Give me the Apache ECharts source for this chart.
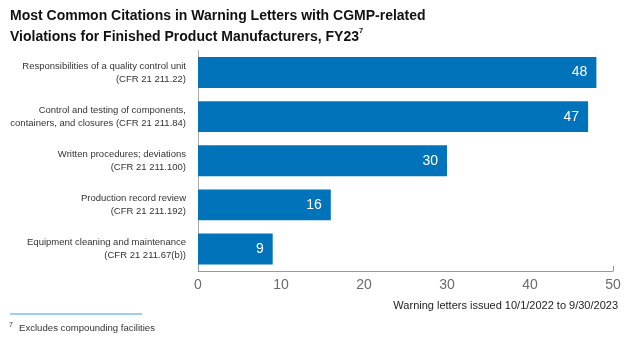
<!DOCTYPE html>
<html><head><meta charset="utf-8">
<script src="https://cdn.jsdelivr.net/npm/echarts@6/dist/echarts.min.js"></script>
<style>html,body{margin:0;padding:0;background:#fff}#c{width:624px;height:340px}</style>
</head><body><div id="c"></div>
<script>
var categories = [
  "Responsibilities of a quality control unit\n(CFR 21 211.22)",
  "Control and testing of components,\ncontainers, and closures (CFR 21 211.84)",
  "Written procedures; deviations\n(CFR 21 211.100)",
  "Production record review\n(CFR 21 211.192)",
  "Equipment cleaning and maintenance\n(CFR 21 211.67(b))"
];
var citations = [48, 47, 30, 16, 9];
var xTicks = [0, 10, 20, 30, 40, 50];
var titleLine1 = "Most Common Citations in Warning Letters with CGMP-related";
var titleLine2 = "Violations for Finished Product Manufacturers, FY23";
var axisNote = "Warning letters issued 10/1/2022 to 9/30/2023";
var footnote = "Excludes compounding facilities";

var FONT = "Liberation Sans, Arial, Helvetica, sans-serif";
var chart = echarts.init(document.getElementById('c'), null, {renderer: 'canvas'});
chart.setOption({
  animation: false,
  textStyle: {fontFamily: FONT},
  title: {
    left: 10, top: 6, padding: 0,
    text: titleLine1 + "\n" + titleLine2 + "{sup|7}",
    textStyle: {fontFamily: FONT, fontSize: 14, fontWeight: 'bold', color: '#111', lineHeight: 21,
      rich: {sup: {fontSize: 7.5, fontWeight: 'bold', color: '#111', verticalAlign: 'top', padding: [0,0,8,0], fontFamily: FONT}}}
  },
  grid: {left: 198, right: 11, top: 50.5, bottom: 69, containLabel: false, outerBoundsMode: 'none'},
  xAxis: [{
    type: 'value', min: xTicks[0], max: xTicks[xTicks.length-1], interval: 10,
    axisLine: {show: true, lineStyle: {color: '#999', width: 1}},
    axisTick: {show: false},
    splitLine: {show: false},
    axisLabel: {fontSize: 14, color: '#6b6b6b', margin: 7, fontFamily: FONT}
  }, {
    type: 'value', position: 'bottom', min: xTicks[0], max: xTicks[xTicks.length-1], interval: 50,
    axisLine: {show: false},
    axisTick: {show: true, inside: true, length: 5, lineStyle: {color: '#999'}},
    axisLabel: {show: false}, splitLine: {show: false}
  }],
  yAxis: {
    type: 'category', data: categories, inverse: true,
    axisLine: {show: true, lineStyle: {color: '#aaa', width: 1}},
    axisTick: {show: false},
    axisLabel: {fontSize: 9.5, color: '#333', margin: 12, lineHeight: 12.7, align: 'right', fontFamily: FONT}
  },
  series: [{
    type: 'bar', data: citations, barWidth: '70%',
    itemStyle: {color: '#0073BA'},
    label: {show: true, position: 'insideRight', distance: 9, color: '#fff', fontSize: 14, fontFamily: FONT}
  }],
  graphic: [
    {type: 'text', right: 6, top: 300, style: {text: axisNote, fontSize: 11, fill: '#222', fontFamily: FONT}},
    {type: 'line', shape: {x1: 10, y1: 314, x2: 142, y2: 314}, style: {stroke: '#7cc0e8', lineWidth: 1.5}},
    {type: 'text', left: 9, top: 322, style: {text: "7", fontSize: 7, fill: '#333', fontFamily: FONT}},
    {type: 'text', left: 19, top: 323, style: {text: footnote, fontSize: 9.6, fill: '#333', fontFamily: FONT}}
  ]
});
</script></body></html>
